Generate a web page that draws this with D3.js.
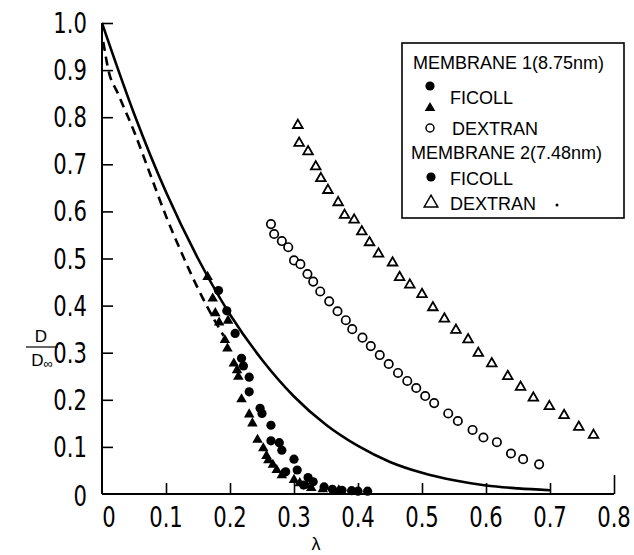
<!DOCTYPE html>
<html>
<head>
<meta charset="utf-8">
<script src="https://cdn.jsdelivr.net/npm/d3@7"></script>
<style>
  body { margin: 0; background: #fff; }
  svg { display: block; }
  .tick text { font-family: "Liberation Sans Narrow", "DejaVu Sans Condensed", "Arial Narrow", sans-serif; }
  .leg { font-family: "Liberation Sans", Arial, sans-serif; }
</style>
</head>
<body>
<div id="graph"></div>
<script>
// theory curves
var solidLam = [0, 0.05, 0.1, 0.15, 0.2, 0.25, 0.3, 0.35, 0.4, 0.45, 0.5, 0.55, 0.6, 0.65, 0.7];
var solidD   = [1.0, 0.808, 0.641, 0.50, 0.381, 0.285, 0.207, 0.147, 0.102, 0.068, 0.045, 0.029, 0.018, 0.012, 0.008];

var dashLam = [0.002, 0.01, 0.025, 0.05, 0.075, 0.1, 0.125, 0.15, 0.175, 0.19];
var dashD   = [0.96, 0.90, 0.85, 0.77, 0.68, 0.59, 0.51, 0.436, 0.371, 0.336];

// FICOLL, filled circles
var ficCircLam = [0.182, 0.195, 0.208, 0.218, 0.221, 0.230, 0.230, 0.247, 0.250, 0.264, 0.264, 0.277, 0.281, 0.300, 0.305, 0.287, 0.322, 0.330, 0.315, 0.347, 0.36, 0.375, 0.39, 0.40, 0.415];
var ficCircD   = [0.432, 0.389, 0.341, 0.288, 0.272, 0.248, 0.217, 0.182, 0.171, 0.146, 0.113, 0.109, 0.093, 0.074, 0.051, 0.047, 0.035, 0.026, 0.019, 0.015, 0.010, 0.008, 0.007, 0.006, 0.006];

// FICOLL, filled triangles
var ficTriLam = [0.165, 0.173, 0.177, 0.183, 0.197, 0.192, 0.196, 0.206, 0.211, 0.213, 0.218, 0.230, 0.235, 0.243, 0.252, 0.257, 0.260, 0.267, 0.273, 0.281, 0.300, 0.309, 0.320, 0.327, 0.345, 0.37];
var ficTriD   = [0.461, 0.415, 0.384, 0.364, 0.368, 0.327, 0.309, 0.277, 0.263, 0.249, 0.201, 0.169, 0.150, 0.115, 0.097, 0.081, 0.072, 0.062, 0.051, 0.040, 0.030, 0.023, 0.018, 0.013, 0.010, 0.008];

// membrane 1 dextran, open circles
var dex1Lam = [0.264, 0.269, 0.281, 0.291, 0.300, 0.310, 0.321, 0.330, 0.341, 0.355, 0.368, 0.381, 0.391, 0.407, 0.420, 0.434, 0.448, 0.4625, 0.477, 0.491, 0.505, 0.519, 0.541, 0.556, 0.579, 0.596, 0.617, 0.639, 0.658, 0.683];
var dex1D   = [0.573, 0.552, 0.537, 0.524, 0.496, 0.488, 0.467, 0.451, 0.430, 0.409, 0.388, 0.369, 0.350, 0.332, 0.314, 0.295, 0.276, 0.257, 0.240, 0.225, 0.208, 0.193, 0.171, 0.155, 0.136, 0.120, 0.110, 0.086, 0.074, 0.063];

// membrane 2 dextran, open triangles
var dex2Lam = [0.306, 0.308, 0.322, 0.334, 0.342, 0.353, 0.369, 0.379, 0.394, 0.406, 0.418, 0.432, 0.454, 0.465, 0.481, 0.500, 0.517, 0.535, 0.553, 0.572, 0.588, 0.609, 0.634, 0.654, 0.674, 0.699, 0.722, 0.745, 0.768];
var dex2D   = [0.783, 0.745, 0.727, 0.695, 0.670, 0.645, 0.619, 0.592, 0.582, 0.557, 0.534, 0.510, 0.491, 0.460, 0.444, 0.424, 0.396, 0.372, 0.348, 0.328, 0.299, 0.277, 0.250, 0.227, 0.204, 0.186, 0.167, 0.142, 0.125];

var xTicks = [0, 0.1, 0.2, 0.3, 0.4, 0.5, 0.6, 0.7, 0.8];
var yTicks = [0, 0.1, 0.2, 0.3, 0.4, 0.5, 0.6, 0.7, 0.8, 0.9, 1.0];

var legendRows = ["MEMBRANE 1(8.75nm)", "FICOLL", "DEXTRAN", "MEMBRANE 2(7.48nm)", "FICOLL", "DEXTRAN"];

function zip(a, b) { return a.map(function(v, i) { return [v, b[i]]; }); }

var W = 634, H = 555;
var margin = {top: 23, bottom: 61, left: 102, right: 20};

var x = d3.scaleLinear().domain([0, 0.8]).range([margin.left, 614]);
var y = d3.scaleLinear().domain([0, 1.0]).range([494, margin.top]);

var svg = d3.select("#graph").append("svg")
    .attr("width", W)
    .attr("height", H);

// axes
var xAxis = svg.append("g")
    .attr("transform", "translate(0," + y(0) + ")")
    .call(d3.axisTop(x).tickValues(xTicks).tickSize(11).tickFormat(""));
xAxis.select(".domain").attr("stroke-width", 2).attr("d", "M" + x(0) + ",0H" + x(0.8));
xAxis.selectAll(".tick line").attr("stroke-width", 1.6);
xAxis.selectAll(".tick").filter(function(d) { return d === 0; }).remove();
xAxis.selectAll(".tick").filter(function(d) { return d === 0.8; }).select("line").attr("y2", -19);

var yAxis = svg.append("g")
    .attr("transform", "translate(" + x(0) + ",0)")
    .call(d3.axisRight(y).tickValues(yTicks).tickSize(11).tickFormat(""));
yAxis.select(".domain").attr("stroke-width", 2).attr("d", "M0," + y(1) + "V" + y(0));
yAxis.selectAll(".tick line").attr("stroke-width", 1.6);
yAxis.selectAll(".tick").filter(function(d) { return d === 0; }).remove();

// tick labels (tall, condensed look)
svg.append("g").attr("class", "tick").selectAll("text")
    .data(xTicks).enter().append("text")
    .attr("transform", function(d) { return "translate(" + (x(d) + (d === 0 ? 7 : 0)) + ",527) scale(0.84,1)"; })
    .attr("text-anchor", "middle")
    .attr("font-size", 28)
    .text(function(d) { return d === 0 ? "0" : d3.format(".1f")(d); });

svg.append("g").attr("class", "tick").selectAll("text")
    .data(yTicks).enter().append("text")
    .attr("transform", function(d) { return "translate(87," + (y(d) + (d === 0 ? 12 : 10)) + ") scale(0.84,1)"; })
    .attr("text-anchor", "end")
    .attr("font-size", 28)
    .text(function(d) { return d === 0 ? "0" : d3.format(".1f")(d); });

// axis titles
var yl = svg.append("g").attr("class", "leg").attr("font-size", 17);
yl.append("text").attr("x", 41).attr("y", 342).attr("text-anchor", "middle").text("D");
yl.append("line").attr("x1", 26).attr("x2", 58).attr("y1", 347).attr("y2", 347).attr("stroke", "#000").attr("stroke-width", 1.2);
var dinf = yl.append("text").attr("x", 42).attr("y", 366).attr("text-anchor", "middle");
dinf.append("tspan").text("D");
dinf.append("tspan").attr("font-size", 13).attr("dy", 2).text("\u221e");
svg.append("text").attr("class", "leg").attr("x", 316).attr("y", 550).attr("text-anchor", "middle")
    .attr("font-size", 18).text("\u03bb");

// curves
var line = d3.line().x(function(d) { return x(d[0]); }).y(function(d) { return y(d[1]); }).curve(d3.curveMonotoneX);
svg.append("path").datum(zip(solidLam, solidD))
    .attr("d", line).attr("fill", "none").attr("stroke", "#000").attr("stroke-width", 2.6);
svg.append("path").datum(zip(dashLam, dashD))
    .attr("d", line).attr("fill", "none").attr("stroke", "#000").attr("stroke-width", 2.6)
    .attr("stroke-dasharray", "9,6");

// markers
var tri = d3.symbol().type(d3.symbolTriangle).size(48);
var triOpen = d3.symbol().type(d3.symbolTriangle).size(40);

svg.append("g").selectAll("circle").data(zip(dex1Lam, dex1D)).enter().append("circle")
    .attr("cx", function(d) { return x(d[0]); }).attr("cy", function(d) { return y(d[1]); })
    .attr("r", 4.2).attr("fill", "#fff").attr("stroke", "#000").attr("stroke-width", 1.7);

svg.append("g").selectAll("path").data(zip(dex2Lam, dex2D)).enter().append("path")
    .attr("transform", function(d) { return "translate(" + x(d[0]) + "," + y(d[1]) + ")"; })
    .attr("d", triOpen).attr("fill", "#fff").attr("stroke", "#000").attr("stroke-width", 1.8);

svg.append("g").selectAll("path").data(zip(ficTriLam, ficTriD)).enter().append("path")
    .attr("transform", function(d) { return "translate(" + x(d[0]) + "," + y(d[1]) + ")"; })
    .attr("d", tri).attr("fill", "#000");

svg.append("g").selectAll("circle").data(zip(ficCircLam, ficCircD)).enter().append("circle")
    .attr("cx", function(d) { return x(d[0]); }).attr("cy", function(d) { return y(d[1]); })
    .attr("r", 4.6).attr("fill", "#000");

// legend
var lg = svg.append("g").attr("class", "leg").attr("font-size", 18);
lg.append("rect").attr("x", 402).attr("y", 43).attr("width", 222).attr("height", 175)
    .attr("fill", "#fff").attr("stroke", "#000").attr("stroke-width", 1.6);
var rowY = [69, 104, 135, 159, 185, 210];
var rowX = [413, 450, 452, 411, 450, 450];
lg.selectAll("text.row").data(legendRows).enter().append("text")
    .attr("class", "row")
    .attr("x", function(d, i) { return rowX[i]; })
    .attr("y", function(d, i) { return rowY[i]; })
    .text(function(d) { return d; });
lg.append("circle").attr("cx", 430).attr("cy", 86).attr("r", 4.6).attr("fill", "#000");
lg.append("path").attr("transform", "translate(430,108)").attr("d", tri).attr("fill", "#000");
lg.append("circle").attr("cx", 430).attr("cy", 128).attr("r", 4).attr("fill", "none").attr("stroke", "#000").attr("stroke-width", 1.5);
lg.append("circle").attr("cx", 431).attr("cy", 177).attr("r", 4.6).attr("fill", "#000");
lg.append("path").attr("transform", "translate(431,203)").attr("d", d3.symbol().type(d3.symbolTriangle).size(80))
    .attr("fill", "#fff").attr("stroke", "#000").attr("stroke-width", 1.5);
lg.append("circle").attr("cx", 557).attr("cy", 205).attr("r", 1.5).attr("fill", "#000");
</script>
</body>
</html>
